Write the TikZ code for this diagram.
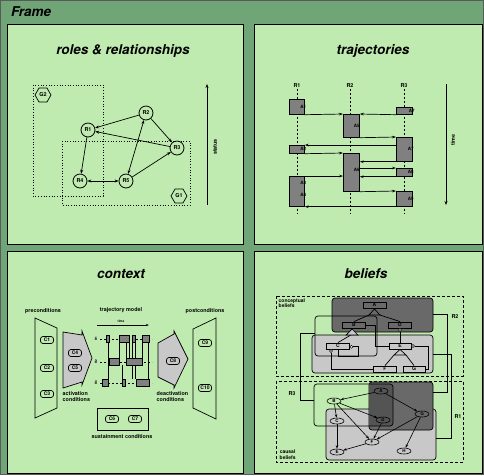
\documentclass[tikz,border=0pt]{standalone}
\usepackage{fontspec}
\setmainfont{TeX Gyre Heros}
\usetikzlibrary{arrows.meta,shapes.geometric,calc}

\definecolor{framegreen}{RGB}{112,165,120}
\definecolor{panelgreen}{RGB}{192,235,176}
\definecolor{frameedge}{RGB}{90,90,90}
\definecolor{boxgray}{RGB}{128,128,128}
\definecolor{lightgray2}{RGB}{200,200,200}
\definecolor{darkgray2}{RGB}{105,105,105}
\definecolor{darkergray}{RGB}{84,84,84}

\tikzset{
  panel/.style={draw=black, line width=0.9pt, fill=panelgreen},
  ptitle/.style={font=\fontsize{13.5}{15}\selectfont\bfseries\itshape},
  lbl/.style={font=\fontsize{5.4}{6.2}\selectfont\bfseries, inner sep=0.5pt},
  role/.style={circle, draw, line width=0.8pt, minimum size=14pt, inner sep=0pt,
               font=\fontsize{5.4}{6}\selectfont\bfseries},
  grp/.style={regular polygon, regular polygon sides=6, draw, line width=0.7pt,
              minimum size=16pt, inner sep=0pt, font=\fontsize{5.4}{6}\selectfont\bfseries},
  grpbox/.style={dotted, line width=0.7pt},
  link/.style={line width=0.7pt, -{Stealth[length=4pt,width=3pt]}},
  link2/.style={line width=0.7pt, {Stealth[length=4pt,width=3pt]}-{Stealth[length=4pt,width=3pt]}},
  axisarrow/.style={line width=0.8pt, -{Stealth[length=4pt,width=3pt]}},
  lifeline/.style={line width=0.8pt, dash pattern=on 2pt off 2pt},
  actbox/.style={draw, fill=boxgray, line width=0.7pt, inner sep=0pt, anchor=north west},
  alabel/.style={font=\fontsize{4.5}{5}\selectfont\bfseries, inner sep=0pt},
  msg/.style={line width=0.7pt, -{Stealth[length=4pt,width=2.6pt]}},
  cond/.style={draw, rounded corners=2.5pt, line width=0.7pt, minimum width=13pt,
               minimum height=7pt, inner sep=1pt, font=\fontsize{5}{5.5}\selectfont\bfseries},
  blockarrow/.style={draw, line width=0.7pt, fill=lightgray2},
  trapz/.style={draw, line width=0.7pt},
  lane/.style={line width=0.6pt, dash pattern=on 2pt off 2pt},
  seg/.style={draw, fill=boxgray, line width=0.5pt},
  bbox/.style={draw, line width=0.9pt, minimum height=6pt, minimum width=23pt, inner sep=0pt,
               font=\fontsize{5}{5}\selectfont\bfseries},
  bell/.style={ellipse, draw, line width=0.6pt, minimum width=14pt, minimum height=6pt,
               inner sep=0pt, font=\fontsize{4.5}{5}\selectfont\bfseries},
  cause/.style={line width=0.6pt, -{Stealth[length=3.5pt,width=2.5pt]}},
  region/.style={draw, line width=0.7pt, rounded corners=3pt},
  beliefset/.style={line width=0.8pt, dash pattern=on 3pt off 2pt},
  wire/.style={line width=0.7pt},
  ball/.style={circle, draw, fill=white, line width=0.5pt, minimum size=3pt, inner sep=0pt},
  tri/.style={draw, line width=0.7pt}
}

\begin{document}
\begin{tikzpicture}[x=1pt,y=-1pt]
\useasboundingbox (0,0) rectangle (484,475);
\fill[framegreen] (0,0) rectangle (484,475);
\draw[frameedge, line width=1pt] (0.5,0.5) rectangle (483.5,474.5);
\node[anchor=west, font=\fontsize{13.5}{15}\selectfont\bfseries\itshape, inner sep=0pt] (frametitle) at (11,12) {Frame};

% the four panels
\draw[panel] (7,24) rectangle (243,244);
\draw[panel] (254,24) rectangle (482,244);
\draw[panel] (7,251) rectangle (243,473);
\draw[panel] (254,251) rectangle (482,473);

% ---------------- roles & relationships ----------------
\node[ptitle] (t1) at (123,51) {roles \& relationships};
\draw[grpbox] (33,85) rectangle (103,196);
\draw[grpbox] (62,141) rectangle (190,205);
\node[grp] (g2) at (43,95) {G2};
\node[grp] (g1) at (179,196) {G1};
\node[role] (r1) at (88,130) {R1};
\node[role] (r2) at (146,113) {R2};
\node[role] (r3) at (177,148) {R3};
\node[role] (r4) at (80,181) {R4};
\node[role] (r5) at (126,181) {R5};
\draw[link] (r2) -- (r1);
\draw[link] (r2) -- (r3);
\draw[link] (r3) -- (r1);
\draw[link] (r1) -- (r4);
\draw[link2] (r4) -- (r5);
\draw[link2] (r5) -- (r2);
\draw[link] (r5) -- (r3);
\coordinate (st0) at (207,205);
\coordinate (st1) at (207,84);
\draw[axisarrow] (st0) -- (st1);
\node[lbl, rotate=90] (stl) at (215,147) {status};

% ---------------- trajectories ----------------
\node[ptitle] (t2) at (373,51) {trajectories};
\node[lbl] (l1) at (297,86) {R1};
\node[lbl] (l2) at (350,86) {R2};
\node[lbl] (l3) at (404,86) {R3};
\coordinate (l1e) at (297,214);
\coordinate (l2e) at (350,214);
\coordinate (l3e) at (404,214);
\draw[lifeline] (l1.south) -- (l1e);
\draw[lifeline] (l2.south) -- (l2e);
\draw[lifeline] (l3.south) -- (l3e);

\node[actbox, minimum width=15pt, minimum height=15pt] (a1) at (289,99) {};
\node[actbox, minimum width=16pt, minimum height=7pt] (a7a) at (396,107) {};
\node[actbox, minimum width=16pt, minimum height=23pt] (a5) at (343,114) {};
\node[actbox, minimum width=16pt, minimum height=24pt] (a7b) at (396,137) {};
\node[actbox, minimum width=15pt, minimum height=8pt] (a2) at (289,145) {};
\node[actbox, minimum width=16pt, minimum height=38pt] (a6) at (343,153) {};
\node[actbox, minimum width=16pt, minimum height=8pt] (a8) at (396,168) {};
\node[actbox, minimum width=15pt, minimum height=30pt] (a34) at (289,176) {};
\node[actbox, minimum width=16pt, minimum height=15pt] (a9) at (396,191) {};

\node[alabel] (a1l) at ($(a1.east)+(-1.5,0)$) {A1};
\node[alabel] (a7al) at ($(a7a.east)+(-1,0)$) {A7};
\node[alabel] (a5l) at ($(a5.east)+(-3,0)$) {A5};
\node[alabel] (a7bl) at ($(a7b.east)+(-2,0)$) {A7};
\node[alabel] (a2l) at ($(a2.east)+(-1.5,0)$) {A2};
\node[alabel] (a6l) at ($(a6.east)+(-3,-2)$) {A6};
\node[alabel] (a8l) at ($(a8.east)+(-2,0)$) {A8};
\node[alabel] (a3l) at ($(a34.north east)+(-1.5,7)$) {A3};
\node[alabel] (a4l) at ($(a34.north east)+(-1.5,19)$) {A4};
\node[alabel] (a9l) at ($(a9.east)+(-2,0)$) {A9};

\draw[msg] (a1.south east) -- (a5.north west);
\draw[msg] (a7a.south west) -- (a5.north east);
\draw[msg] (a5.south east) -- (a7b.north west);
\draw[msg] (a2.north east -| a7b.west) -- (a2.north east);
\draw[msg] (a2.south east) -- (a6.north west);
\draw[msg] (a7b.south west) -- (a7b.south west -| a6.east);
\draw[msg] (a8.north west -| a6.east) -- (a8.north west);
\draw[msg] (a34.north east) -- (a34.north east -| a6.west);
\draw[msg] (a8.south west) -- (a8.south west -| a6.east);
\draw[msg] (a6.south east) -- (a9.north west);
\draw[msg] (a9.south west) -- (a34.south east);

\coordinate (tm0) at (446,84);
\coordinate (tm1) at (446,205);
\draw[axisarrow] (tm0) -- (tm1);
\node[lbl, rotate=90] (tml) at (453,140) {time};

% ---------------- context ----------------
\node[ptitle] (t3) at (121,274) {context};
\node[lbl] (prel) at (43,311) {preconditions};
\node[lbl] (postl) at (205,311) {postconditions};
\node[lbl] (trml) at (121,310) {trajectory model};

% precondition and postcondition sets
\draw[trapz] (35,318) -- (57,328) -- (57,408) -- (35,418) -- cycle;
\draw[trapz] (193,329) -- (216,318) -- (216,419) -- (193,408) -- cycle;
% activation / deactivation block arrows
\draw[blockarrow] (63,332) -- (82,335) -- (82,331) -- (92,358) -- (82,385) -- (82,382) -- (63,388) -- cycle;
\draw[blockarrow] (158,343) -- (174,334) -- (174,331) -- (188,359) -- (174,388) -- (174,385) -- (158,377) -- cycle;

\node[cond] (c1) at (47,340) {C1};
\node[cond] (c2) at (47,368) {C2};
\node[cond] (c3) at (47,394) {C3};
\node[cond] (c4) at (75,353) {C4};
\node[cond] (c5) at (75,368) {C5};
\node[cond] (c8) at (173,361) {C8};
\node[cond] (c9) at (205,343) {C9};
\node[cond] (c10) at (205,388) {C10};

\node[lbl, anchor=north west, align=left] (actl) at (62,391) {activation\\conditions};
\node[lbl, anchor=north west, align=left] (deactl) at (156,391) {deactivation\\conditions};

% sustainment conditions
\draw[trapz] (97,408) rectangle (148,430);
\node[cond] (c6) at (112,419) {C6};
\node[cond] (c7) at (135,419) {C7};
\node[lbl] (susl) at (122,437) {sustainment conditions};

% trajectory model sketch
\coordinate (tt0) at (97,325);
\coordinate (tt1) at (149,325);
\draw[line width=0.6pt, -{Stealth[length=3pt,width=2pt]}] (tt0) -- (tt1);
\node[font=\fontsize{3.2}{3.5}\selectfont\bfseries, inner sep=0pt] (ttl) at (121,321.5) {time};
\node[font=\fontsize{3}{3}\selectfont\bfseries, rotate=90, inner sep=0pt] (ln1) at (96,339) {R1};
\node[font=\fontsize{3}{3}\selectfont\bfseries, rotate=90, inner sep=0pt] (ln2) at (96,362) {R2};
\node[font=\fontsize{3}{3}\selectfont\bfseries, rotate=90, inner sep=0pt] (ln3) at (96,383) {R3};
\draw[lane] (100,339) -- (152,339);
\draw[lane] (100,362) -- (152,362);
\draw[lane] (100,383) -- (152,383);
\draw[line width=0.5pt]
  (108,342) -- (108,379)
  (119.5,342) -- (119.5,358)
  (122,365) -- (122,379)
  (126,342) -- (126,358)
  (129,342) -- (129,358)
  (132,342) -- (132,379)
  (135,342) -- (135,379)
  (142,342) -- (142,358)
  (148.5,342) -- (148.5,379);
\filldraw[seg] (106,335) rectangle (109,342);
\filldraw[seg] (119,335) rectangle (129,342);
\filldraw[seg] (132,335) rectangle (135,342);
\filldraw[seg] (142,335) rectangle (149,342);
\filldraw[seg] (109,358) rectangle (119,365);
\filldraw[seg] (126,358) rectangle (142,365);
\filldraw[seg] (102,379) rectangle (108,386);
\filldraw[seg] (122,379) rectangle (125,386);
\filldraw[seg] (136,379) rectangle (149,386);

% ---------------- beliefs ----------------
\node[ptitle] (t4) at (366,274) {beliefs};
\draw[beliefset] (276,296) rectangle (463,376);
\draw[beliefset] (276,381) rectangle (463,462);
\node[lbl, anchor=north west, align=left, font=\fontsize{5}{5.6}\selectfont\bfseries] (cbl) at (278,298) {conceptual\\beliefs};
\node[lbl, anchor=south west, align=center, font=\fontsize{5}{5.6}\selectfont\bfseries] (kbl) at (279,460) {causal\\beliefs};

% conceptual beliefs
\draw[region, fill=lightgray2] (312,335) rectangle (433,373);
\draw[region, fill=darkgray2] (332,298) rectangle (433,332);
\draw[region] (315,316) rectangle (377,356);

\node[bbox, fill=darkgray2] (ba) at (374.5,305) {A};
\node[bbox, fill=darkgray2] (bb) at (354,325) {B};
\node[bbox, fill=darkgray2] (bd) at (400,325) {D};
\node[bbox, fill=lightgray2] (bc) at (338,346) {C};
\node[bbox, fill=lightgray2, minimum width=22pt] (be) at (400,346) {E};
\node[bbox, fill=lightgray2] (bf) at (385,369) {F};
\node[bbox, fill=lightgray2, minimum width=22pt] (bg) at (414,369) {G};

\coordinate (taL) at (369,315);
\coordinate (taR) at (380,315);
\coordinate (tbL) at (346,335);
\coordinate (tbR) at (358,335);
\coordinate (teL) at (394,355);
\coordinate (teR) at (406,355);
\draw[wire] (taL) -- (bb.north);
\draw[wire] (taR) -- (bd.north);
\draw[wire] ($(tbL)!0.4!(tbR)$) -- (bc.north);
\draw[wire] (teL) -- (bf.north);
\draw[wire] (teR) -- (bg.north);
\draw[tri, fill=darkgray2] (taL) -- (ba.south |- 0,309) -- (taR) -- cycle;
\draw[tri, fill=lightgray2] (tbL) -- (352,329) -- (tbR) -- cycle;
\draw[tri, fill=lightgray2] (teL) -- (be.south) -- (teR) -- cycle;

\node[ball] (dball) at ($(bd.south)+(0,1.5)$) {};
\draw[wire] (dball) -- (be.north);
\node[ball] (eball) at ($(be.east)+(1.5,0)$) {};
\draw[wire] (eball.east) -- ++(14,0) |- (bg.east);
\node[ball] (cball) at ($(bc.east)+(1.5,0.8)$) {};
\draw[wire] (cball.east) -- ++(5,0) -- ++(0,10) -| (bc.south);
\node[ball] (cball2) at ($(bc.south west)+(5,1.5)$) {};
\draw[wire] (cball2.south) |- (bf.west);
\draw[wire] (bb.east) -- ++(9,0) |- (be.west);

% causal beliefs
\draw[region, fill=lightgray2] (326,409) rectangle (436,460);
\draw[region, fill=darkgray2] (369,382) rectangle (433,430);
\begin{scope}
  \clip[rounded corners=3pt] (314,384) rectangle (393,426);
  \fill[darkergray, rounded corners=3pt] (369,382) rectangle (433,430);
\end{scope}
\draw[region] (314,384) rectangle (393,426);

\node[bell] (ka) at (381,391) {A};
\node[bell] (kb) at (334,401) {B};
\node[bell] (kc) at (337,421) {C};
\node[bell] (kd) at (383,420) {D};
\node[bell] (kg) at (422,414) {G};
\node[bell] (kf) at (372,442) {F};
\node[bell] (ke) at (337,452) {E};
\node[bell] (kh) at (404,451) {H};
\draw[cause] (ka) -- (kb);
\draw[cause] (ka) -- (kg);
\draw[cause] (kb) -- (kc);
\draw[cause] (kb) -- (kd);
\draw[cause] (kb) -- (kf);
\draw[cause] (kc) -- (ke);
\draw[cause] (kd) -- (kf);
\draw[cause] (kg) -- (kf);
\draw[cause] (kg) -- (kh);
\draw[cause] (kf) -- (ke);

% relationships linking the belief groups
\coordinate (r2s) at (433,314);
\coordinate (r2e) at (433,392);
\draw[wire] (r2s) -- (447,314) |- (r2e);
\node[lbl] (r2l) at (455,317) {R2};
\coordinate (r1s) at (433,354);
\coordinate (r1e) at (436,438);
\draw[wire] (r1s) -- (451,354) |- (r1e);
\node[lbl] (r1l) at (458,417) {R1};
\coordinate (r3s) at (315,333);
\coordinate (r3e) at (314,400);
\draw[wire] (r3s) -- (300,333) |- (r3e);
\node[lbl] (r3l) at (292,394) {R3};
\end{tikzpicture}
\end{document}
